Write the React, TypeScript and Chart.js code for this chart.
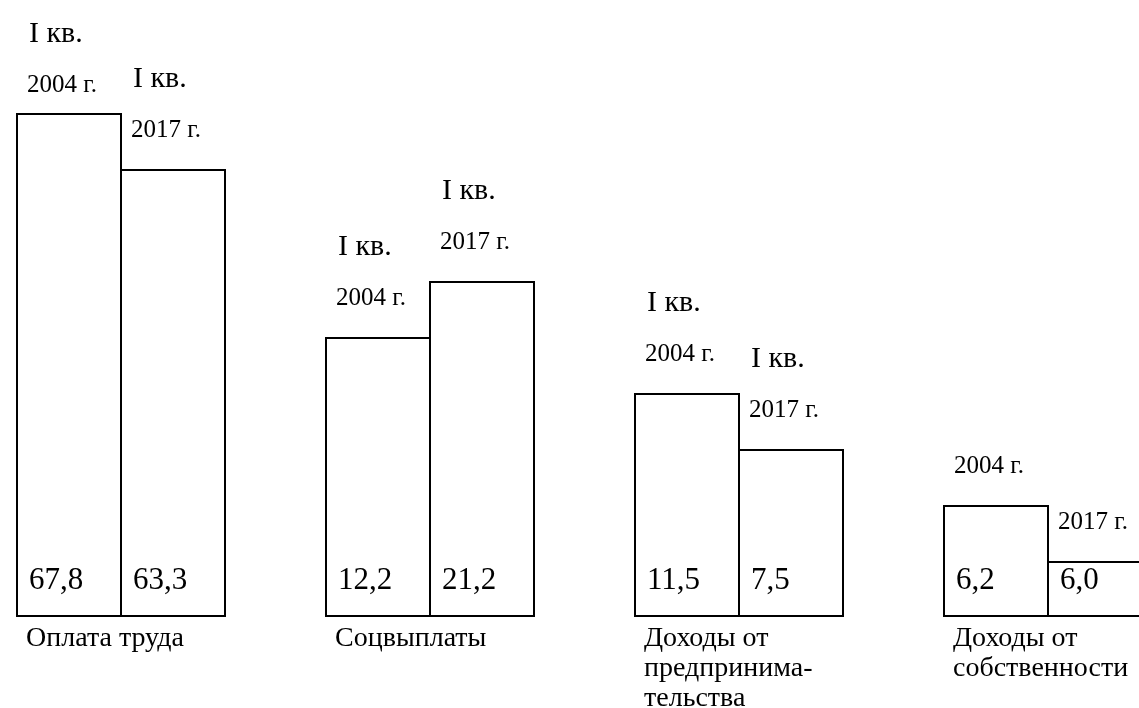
import React, { useEffect, useRef } from "react";
import { Chart, registerables } from "chart.js";

Chart.register(...registerables);

// ---- data ----
const categories: string[][] = [
  ["Оплата труда"],
  ["Соцвыплаты"],
  ["Доходы от", "предпринима-", "тельства"],
  ["Доходы от", "собственности"],
];
const yearLabels = ["2004 г.", "2017 г."];
const quarterLabels2004 = ["I кв.", "I кв.", "I кв.", ""];
const quarterLabels2017 = ["I кв.", "I кв.", "I кв.", ""];
const values2004 = [67.8, 12.2, 11.5, 6.2];
const values2017 = [63.3, 21.2, 7.5, 6.0];
// drawn bar heights (in grid steps) as shown in the picture
const barLevels2004 = [9, 5, 4, 2];
const barLevels2017 = [8, 6, 3, 1];

const SERIF = "'Liberation Serif', 'Times New Roman', serif";
const fmt = (v: number) => v.toFixed(1).replace(".", ",");

const labelPlugin = {
  id: "barLabels",
  afterDatasetsDraw(chart: any) {
    const ctx = chart.ctx as CanvasRenderingContext2D;
    ctx.save();
    ctx.fillStyle = "#000";
    ctx.textAlign = "left";
    ctx.textBaseline = "alphabetic";
    const quarterSets = [quarterLabels2004, quarterLabels2017];
    const valueSets = [values2004, values2017];
    chart.data.datasets.forEach((_ds: any, di: number) => {
      const meta = chart.getDatasetMeta(di);
      meta.data.forEach((bar: any, i: number) => {
        const { x, y, base, width } = bar.getProps(["x", "y", "base", "width"], true);
        const left = x - width / 2;
        ctx.font = `31px ${SERIF}`;
        ctx.fillText(fmt(valueSets[di][i]), left + 13, base - 28);
        const yearBase = Math.max(y - 32, 92);
        ctx.font = `25px ${SERIF}`;
        ctx.fillText(yearLabels[di], left + 11, yearBase);
        const q = quarterSets[di][i];
        if (q) {
          ctx.font = `30px ${SERIF}`;
          ctx.fillText(q, left + 13, yearBase - 50);
        }
      });
    });
    const meta0 = chart.getDatasetMeta(0);
    meta0.data.forEach((bar: any, i: number) => {
      const { x, base, width } = bar.getProps(["x", "base", "width"], true);
      const left = x - width / 2;
      ctx.font = `28px ${SERIF}`;
      categories[i].forEach((line, li) => {
        ctx.fillText(line, left + 10, base + 29 + li * 30);
      });
    });
    ctx.restore();
  },
};

const CANVAS_W = 1237;
const CANVAS_H = 708;
const BOTTOM_PAD = 91;
const STEP_PX = 56;

export default function App() {
  const ref = useRef<HTMLCanvasElement | null>(null);

  useEffect(() => {
    if (!ref.current) return;
    const barOpts = {
      backgroundColor: "#ffffff",
      borderColor: "#000000",
      borderWidth: 2,
      borderSkipped: false as const,
      categoryPercentage: 208 / 309,
      barPercentage: 106 / 104,
      inflateAmount: 0,
    };
    const chart = new Chart(ref.current, {
      type: "bar",
      data: {
        labels: categories.map((c) => c.join(" ")),
        datasets: [
          { label: yearLabels[0], data: barLevels2004, ...barOpts },
          { label: yearLabels[1], data: barLevels2017, ...barOpts },
        ],
      },
      options: {
        responsive: false,
        animation: false,
        devicePixelRatio: 1,
        layout: { padding: { left: 0.5, right: 0.5, top: 0, bottom: BOTTOM_PAD } },
        plugins: { legend: { display: false }, tooltip: { enabled: false } },
        scales: {
          x: { display: false, offset: true, grid: { display: false } },
          y: {
            display: false,
            min: 0,
            max: (CANVAS_H - BOTTOM_PAD) / STEP_PX,
            grid: { display: false },
          },
        },
      },
      plugins: [labelPlugin],
    });
    return () => chart.destroy();
  }, []);

  return (
    <div
      style={{
        position: "fixed",
        left: 0,
        top: 0,
        width: 1139,
        height: 708,
        overflow: "hidden",
        background: "#ffffff",
      }}
    >
      <canvas
        ref={ref}
        width={CANVAS_W}
        height={CANVAS_H}
        style={{ position: "absolute", left: -34, top: 0, width: CANVAS_W, height: CANVAS_H }}
      />
    </div>
  );
}
